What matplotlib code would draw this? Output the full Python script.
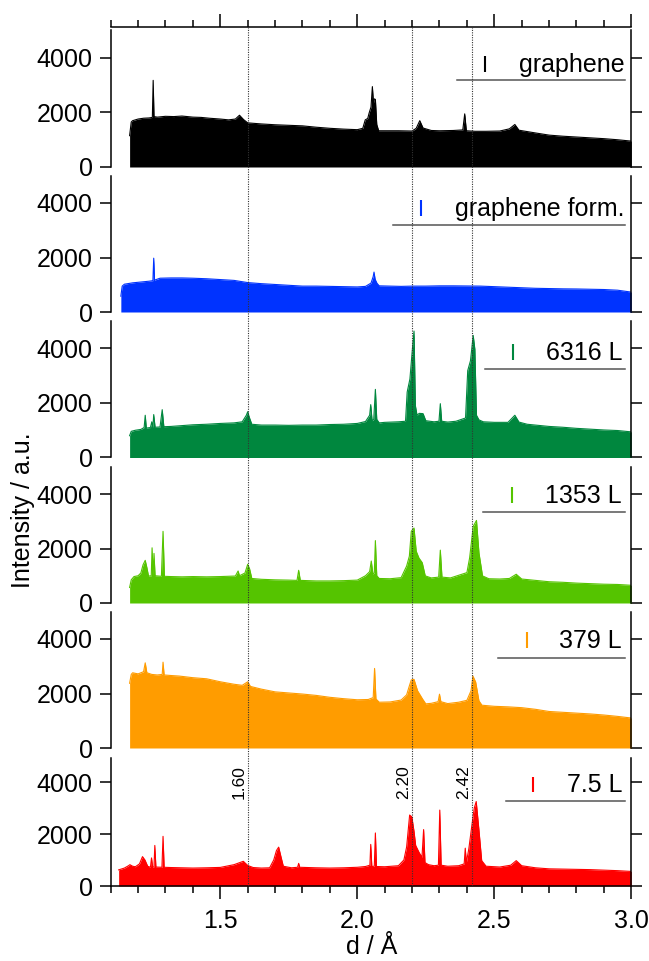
import matplotlib
matplotlib.use("Agg")
import matplotlib.pyplot as plt
from matplotlib.ticker import MultipleLocator, FixedLocator

plt.rcParams['font.family'] = ['Liberation Sans', 'DejaVu Sans']

# ---------------- data (d in Angstrom, intensity in a.u.) ----------------
labels = ["graphene", "graphene form.", "6316 L", "1353 L", "379 L", "7.5 L"]
colors = ["#000000", "#0033FF", "#00873E", "#55C400", "#FF9C00", "#FF0000"]
ref_lines = [1.60, 2.20, 2.42]
ref_labels = ["1.60", "2.20", "2.42"]
x_major_ticks = [1.5, 2.0, 2.5, 3.0]
y_ticks = [0, 2000, 4000]

graphene = [
    (1.169, 1150), (1.175, 1650), (1.18, 1700), (1.20, 1760), (1.22, 1790), (1.24, 1800),
    (1.252, 1820), (1.255, 3180), (1.258, 1850), (1.27, 1830), (1.30, 1860), (1.33, 1850),
    (1.36, 1870), (1.40, 1830), (1.43, 1820), (1.46, 1790), (1.50, 1760), (1.53, 1730),
    (1.555, 1760), (1.57, 1900), (1.585, 1740), (1.60, 1620), (1.65, 1580), (1.70, 1550),
    (1.75, 1530), (1.80, 1510), (1.85, 1460), (1.90, 1420), (1.95, 1390), (2.00, 1370),
    (2.02, 1420), (2.029, 1730), (2.038, 1780), (2.043, 1975), (2.05, 2200), (2.055, 2950),
    (2.059, 2350), (2.062, 2500), (2.066, 2480), (2.071, 1560), (2.078, 1330), (2.10, 1330),
    (2.15, 1330), (2.20, 1320), (2.215, 1420), (2.228, 1700), (2.24, 1430), (2.27, 1340),
    (2.30, 1330), (2.35, 1340), (2.385, 1360), (2.392, 1950), (2.398, 1330), (2.43, 1310),
    (2.47, 1310), (2.52, 1320), (2.555, 1400), (2.575, 1560), (2.59, 1350), (2.65, 1250),
    (2.70, 1170), (2.75, 1130), (2.80, 1100), (2.85, 1070), (2.90, 1040), (2.95, 1000),
    (3.00, 950),
]

graphene_form = [
    (1.137, 580), (1.142, 950), (1.15, 1020), (1.18, 1070), (1.21, 1100), (1.24, 1130),
    (1.254, 1150), (1.257, 1975), (1.260, 1170), (1.28, 1240), (1.32, 1250), (1.36, 1250),
    (1.40, 1240), (1.45, 1220), (1.50, 1190), (1.55, 1160), (1.60, 1080), (1.65, 1040),
    (1.70, 1010), (1.75, 980), (1.80, 950), (1.85, 950), (1.90, 940), (1.95, 930),
    (2.00, 920), (2.03, 940), (2.05, 1060), (2.058, 1300), (2.061, 1465), (2.065, 1200),
    (2.072, 1050), (2.08, 960), (2.12, 950), (2.16, 940), (2.20, 950), (2.25, 950),
    (2.30, 960), (2.35, 960), (2.40, 955), (2.45, 950), (2.50, 930), (2.55, 910),
    (2.60, 890), (2.65, 870), (2.70, 860), (2.75, 850), (2.80, 845), (2.85, 835),
    (2.90, 825), (2.95, 800), (3.00, 730),
]

exp_6316L = [
    (1.169, 800), (1.175, 960), (1.19, 1000), (1.21, 1030), (1.222, 1100), (1.226, 1550),
    (1.230, 1080), (1.245, 1100), (1.250, 1310), (1.254, 1100), (1.257, 1575), (1.262, 1110),
    (1.28, 1120), (1.288, 1755), (1.294, 1130), (1.32, 1140), (1.36, 1170), (1.40, 1200),
    (1.45, 1220), (1.50, 1250), (1.55, 1270), (1.58, 1310), (1.595, 1550), (1.600, 1680),
    (1.605, 1500), (1.615, 1220), (1.65, 1190), (1.70, 1190), (1.75, 1180), (1.80, 1190),
    (1.85, 1190), (1.90, 1210), (1.95, 1220), (2.00, 1250), (2.03, 1320), (2.045, 1550),
    (2.049, 1940), (2.054, 1350), (2.060, 1400), (2.066, 2500), (2.071, 1400), (2.08, 1270),
    (2.10, 1290), (2.15, 1310), (2.176, 1330), (2.182, 2400), (2.192, 2880), (2.201, 3975),
    (2.207, 4640), (2.212, 1900), (2.218, 1550), (2.226, 1620), (2.24, 1610), (2.25, 1350),
    (2.28, 1310), (2.298, 1330), (2.303, 1975), (2.308, 1330), (2.33, 1300), (2.36, 1330),
    (2.395, 1450), (2.403, 3190), (2.413, 3550), (2.423, 4480), (2.429, 3975), (2.435, 1550),
    (2.444, 1380), (2.46, 1310), (2.50, 1290), (2.55, 1290), (2.575, 1550), (2.59, 1300),
    (2.62, 1220), (2.70, 1140), (2.75, 1110), (2.80, 1070), (2.85, 1040), (2.90, 1010),
    (2.95, 990), (3.00, 940),
]

exp_1353L = [
    (1.169, 570), (1.175, 850), (1.185, 970), (1.20, 1000), (1.21, 1100), (1.218, 1400),
    (1.226, 1565), (1.232, 1300), (1.238, 990), (1.248, 1000), (1.251, 2025), (1.255, 1000),
    (1.258, 1820), (1.262, 1000), (1.285, 980), (1.291, 2630), (1.296, 980), (1.32, 970),
    (1.36, 960), (1.40, 970), (1.45, 960), (1.50, 970), (1.555, 990), (1.565, 1175),
    (1.57, 1000), (1.59, 1100), (1.600, 1420), (1.607, 1250), (1.615, 900), (1.65, 870),
    (1.70, 850), (1.75, 840), (1.78, 830), (1.786, 1200), (1.792, 830), (1.85, 810),
    (1.90, 810), (1.95, 820), (2.00, 840), (2.03, 1000), (2.045, 1150), (2.051, 1540),
    (2.057, 1060), (2.062, 1100), (2.066, 2290), (2.071, 1000), (2.08, 900), (2.12, 890),
    (2.16, 930), (2.18, 1355), (2.19, 1720), (2.197, 2630), (2.207, 2750), (2.215, 1900),
    (2.225, 1650), (2.237, 1480), (2.248, 995), (2.27, 920), (2.297, 950), (2.303, 1940),
    (2.309, 950), (2.34, 920), (2.38, 1050), (2.40, 1115), (2.41, 1660), (2.423, 2810),
    (2.435, 3030), (2.444, 1840), (2.457, 995), (2.48, 890), (2.52, 880), (2.555, 900),
    (2.58, 1055), (2.60, 880), (2.65, 830), (2.70, 780), (2.75, 760), (2.80, 730),
    (2.85, 710), (2.90, 690), (2.95, 680), (3.00, 650),
]

exp_379L = [
    (1.169, 2375), (1.175, 2700), (1.18, 2760), (1.20, 2720), (1.22, 2800), (1.226, 3125),
    (1.232, 2760), (1.25, 2700), (1.27, 2680), (1.288, 2700), (1.291, 3150), (1.295, 2680),
    (1.32, 2660), (1.35, 2640), (1.40, 2580), (1.45, 2540), (1.50, 2430), (1.55, 2340),
    (1.58, 2300), (1.60, 2430), (1.61, 2260), (1.65, 2160), (1.70, 2060), (1.75, 2020),
    (1.80, 1980), (1.85, 1930), (1.90, 1860), (1.95, 1810), (2.00, 1770), (2.04, 1780),
    (2.058, 1850), (2.063, 2920), (2.068, 1800), (2.08, 1680), (2.12, 1690), (2.16, 1760),
    (2.18, 1950), (2.19, 2280), (2.197, 2500), (2.207, 2520), (2.22, 2100), (2.238, 1800),
    (2.25, 1620), (2.27, 1640), (2.295, 1700), (2.30, 1975), (2.305, 1700), (2.33, 1630),
    (2.37, 1680), (2.40, 1750), (2.415, 2100), (2.422, 2640), (2.432, 2420), (2.444, 1730),
    (2.455, 1570), (2.50, 1530), (2.55, 1510), (2.60, 1480), (2.65, 1420), (2.70, 1340),
    (2.75, 1310), (2.80, 1280), (2.85, 1250), (2.90, 1210), (2.95, 1160), (3.00, 1100),
]

exp_7_5L = [
    (1.129, 620), (1.15, 690), (1.165, 780), (1.17, 820), (1.18, 760), (1.19, 740),
    (1.205, 850), (1.216, 1130), (1.225, 1000), (1.235, 760), (1.245, 720), (1.249, 1080),
    (1.253, 720), (1.258, 740), (1.261, 1560), (1.265, 730), (1.287, 720), (1.291, 1910),
    (1.295, 720), (1.32, 710), (1.36, 700), (1.40, 690), (1.45, 700), (1.50, 715),
    (1.55, 820), (1.584, 950), (1.60, 790), (1.62, 710), (1.65, 690), (1.68, 700),
    (1.695, 1000), (1.705, 1365), (1.713, 1495), (1.722, 1100), (1.73, 760), (1.76, 700),
    (1.782, 720), (1.786, 870), (1.79, 720), (1.85, 700), (1.90, 690), (1.95, 700),
    (2.00, 720), (2.03, 750), (2.046, 800), (2.049, 1600), (2.053, 750), (2.062, 760),
    (2.066, 2040), (2.07, 750), (2.10, 740), (2.15, 780), (2.17, 1000), (2.18, 1500),
    (2.191, 2730), (2.199, 2660), (2.207, 2100), (2.213, 1560), (2.225, 1300), (2.236, 1100),
    (2.242, 2170), (2.247, 900), (2.26, 820), (2.28, 780), (2.296, 800), (2.301, 2920),
    (2.306, 800), (2.33, 760), (2.37, 780), (2.39, 850), (2.394, 1455), (2.398, 900),
    (2.407, 1430), (2.419, 2400), (2.427, 3000), (2.434, 3250), (2.444, 2145), (2.454, 975),
    (2.47, 760), (2.52, 730), (2.56, 800), (2.58, 975), (2.60, 780), (2.65, 700),
    (2.70, 660), (2.75, 650), (2.80, 640), (2.85, 630), (2.90, 610), (2.95, 590),
    (3.00, 560),
]

series = [graphene, graphene_form, exp_6316L, exp_1353L, exp_379L, exp_7_5L]

# ---------------- layout (pixels) ----------------
W, H = 649, 961
XMIN, XMAX = 1.1, 3.0
left_px, right_px = 110.7, 631.3
zero_px = [167, 312, 457.5, 603, 748, 886]
top_px = [30, 175.5, 321, 467, 612, 758]
px_per_4000 = [109, 109, 109, 109, 109, 104]

leg_base_y = [3500, 3520, 3580, 3670, 3670, 3615]
leg_line_y = [3193, 3193, 3248, 3340, 3303, 3270]
leg_line_x0_px = [457, 393, 485, 483, 498, 506]
leg_marker_px = [485, 421, 513, 512, 527, 533]
leg_text_x1_px = [625, 625, 623, 622, 622, 623]


def px2d(px):
    return XMIN + (px - left_px) / (right_px - left_px) * (XMAX - XMIN)


FS = 18
fig = plt.figure(figsize=(W / 100, H / 100), dpi=100)
axes = []
n = len(series)
for k in range(n):
    h = zero_px[k] - top_px[k]
    ax = fig.add_axes([left_px / W, 1 - zero_px[k] / H, (right_px - left_px) / W, h / H])
    ymax = h / px_per_4000[k] * 4000
    d = [p[0] for p in series[k]]
    inten = [p[1] for p in series[k]]
    ax.fill_between(d, inten, 0, color=colors[k], lw=0, zorder=2)
    ax.plot(d, inten, color=colors[k], lw=0.8, zorder=2)
    ax.set_xlim(XMIN, XMAX)
    ax.set_ylim(0, ymax)
    ax.patch.set_visible(False)

    for s in ax.spines.values():
        s.set_linewidth(1.1)
    ax.yaxis.set_major_locator(FixedLocator(y_ticks))
    ax.tick_params(axis='y', which='major', direction='out', length=8, width=1.1,
                   left=True, right=True, labelleft=True, labelright=False,
                   labelsize=FS, pad=5)
    ax.xaxis.set_major_locator(FixedLocator(x_major_ticks))
    ax.xaxis.set_minor_locator(MultipleLocator(0.1))

    if k == n - 1:
        ax.spines['top'].set_visible(False)
        ax.tick_params(axis='x', which='major', direction='out', length=9.5, width=1.1,
                       bottom=True, top=False, labelbottom=True, labelsize=FS, pad=7)
        ax.tick_params(axis='x', which='minor', direction='out', length=5, width=1.1,
                       bottom=True, top=False)
        ax.set_xticklabels(["1.5", "2.0", "2.5", "3.0"])
    elif k == 0:
        ax.spines['bottom'].set_visible(False)
        ax.spines['top'].set_position(('outward', 2.2))
        ax.tick_params(axis='x', which='major', direction='out', length=9.5, width=1.1,
                       bottom=False, top=True, labelbottom=False, labeltop=False)
        ax.tick_params(axis='x', which='minor', direction='out', length=5, width=1.1,
                       bottom=False, top=True)
    else:
        ax.spines['top'].set_visible(False)
        ax.spines['bottom'].set_visible(False)
        ax.tick_params(axis='x', which='both', bottom=False, top=False,
                       labelbottom=False)

    # legend: marker, label and underline
    xm = px2d(leg_marker_px[k])
    yb = leg_base_y[k]
    ax.plot([xm, xm], [yb, yb + 590], color=colors[k], lw=1.5,
            solid_capstyle='butt', zorder=5)
    ax.text(px2d(leg_text_x1_px[k]), yb, labels[k], ha='right', va='baseline',
            fontsize=FS, color='black', zorder=5)
    ax.plot([px2d(leg_line_x0_px[k]), px2d(625)], [leg_line_y[k]] * 2,
            color='#555555', lw=1.1, zorder=5)
    axes.append(ax)

# reference dotted lines spanning all panels
ov_top, ov_bot = 27, zero_px[-1]
ov = fig.add_axes([left_px / W, 1 - ov_bot / H, (right_px - left_px) / W, (ov_bot - ov_top) / H])
ov.set_xlim(XMIN, XMAX)
ov.set_ylim(0, 1)
ov.axis('off')
for xv in ref_lines:
    ov.axvline(xv, color='#333333', lw=0.8, ls=(0, (1, 1.2)), zorder=10)

axb = axes[-1]
for xv, lab in zip(ref_lines, ref_labels):
    axb.text(xv - 0.004, 4000, lab, rotation=90, ha='right', va='center',
             fontsize=12.5, color='black', zorder=6)

fig.text(23 / W, 1 - 510 / H, "Intensity / a.u.", rotation=90, ha='center',
         va='center', fontsize=FS)
fig.text(372 / W, 1 - 947 / H, "d / Å", ha='center', va='center', fontsize=FS)

fig.savefig("out.png", dpi=100)
